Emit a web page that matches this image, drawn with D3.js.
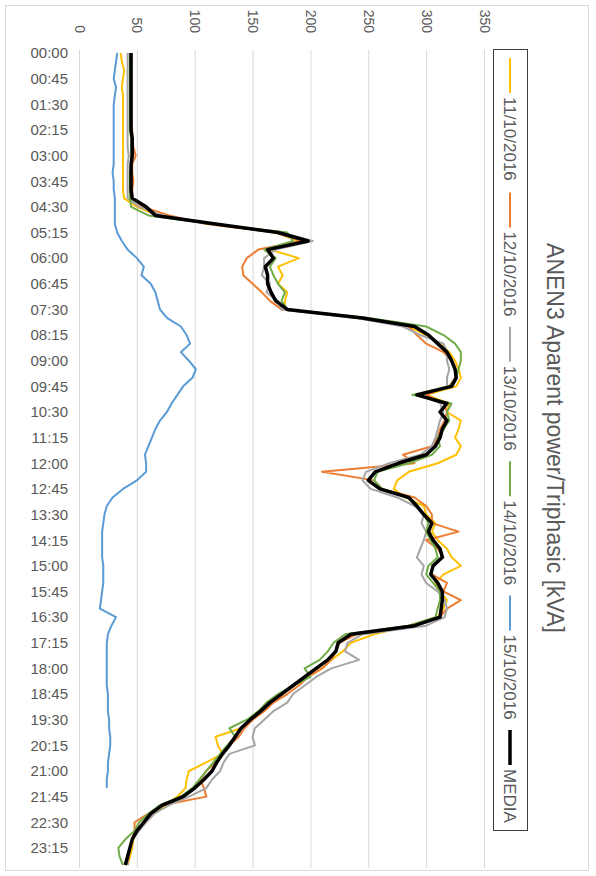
<!DOCTYPE html>
<html>
<head lang="en">
    <meta charset="UTF-8">
    <title>ANEN3 Aparent power/Triphasic</title>
    <script src="https://cdnjs.cloudflare.com/ajax/libs/d3/7.8.5/d3.min.js" charset="utf-8"></script>
    <style>
        body { margin: 0; background: white; }
    </style>
</head>

<body>
<div id="chart"></div>
<script>

// categories: one reading every 15 minutes
var times = [
    '00:00','00:15','00:30','00:45','01:00','01:15','01:30','01:45','02:00','02:15','02:30','02:45',
    '03:00','03:15','03:30','03:45','04:00','04:15','04:30','04:45','05:00','05:15','05:30','05:45',
    '06:00','06:15','06:30','06:45','07:00','07:15','07:30','07:45','08:00','08:15','08:30','08:45',
    '09:00','09:15','09:30','09:45','10:00','10:15','10:30','10:45','11:00','11:15','11:30','11:45',
    '12:00','12:15','12:30','12:45','13:00','13:15','13:30','13:45','14:00','14:15','14:30','14:45',
    '15:00','15:15','15:30','15:45','16:00','16:15','16:30','16:45','17:00','17:15','17:30','17:45',
    '18:00','18:15','18:30','18:45','19:00','19:15','19:30','19:45','20:00','20:15','20:30','20:45',
    '21:00','21:15','21:30','21:45','22:00','22:15','22:30','22:45','23:00','23:15','23:30','23:45'
];
var timeTicks = times.filter(function(t, i) { return i % 3 == 0; });
var valueTicks = [0, 50, 100, 150, 200, 250, 300, 350];

var names = ['11/10/2016', '12/10/2016', '13/10/2016', '14/10/2016', '15/10/2016', 'MEDIA'];
var colors = ['#ffc000', '#ed7d31', '#a5a5a5', '#70ad47', '#5b9bd5', '#000000'];

var day11 = [36,37,39,38,37,38,38,38,38,38,38,38,38,38,38,38,38,39,
    50,68,115,170,190,165,190,172,176,172,180,178,178,
    240,285,300,312,320,325,328,330,326,300,320,318,330,328,325,330,326,
    310,285,275,272,282,298,300,308,305,310,318,322,330,315,308,312,318,315,310,
    285,255,235,228,218,210,198,186,176,165,156,150,140,118,120,124,110,95,93,92,85,75,65,56,50,47,46,44,42];
var day12 = [45,45,44,45,45,45,45,45,45,46,46,47,49,46,46,47,46,46,
    55,78,110,170,192,155,145,141,142,150,158,165,175,
    245,285,292,300,315,322,325,325,320,300,315,318,316,312,310,305,280,
    290,210,255,262,290,300,305,305,328,300,310,315,305,305,318,315,330,318,312,
    285,240,225,222,218,210,198,190,180,168,160,150,143,138,130,125,118,110,105,108,110,72,60,48,48,46,44,43,42];
var day13 = [42,42,42,42,42,42,42,42,42,42,42,42,43,42,42,42,42,42,
    52,72,115,175,202,170,160,160,158,165,162,172,175,
    240,280,295,315,318,318,320,318,318,295,312,315,312,310,308,305,295,
    268,248,245,252,275,290,298,296,300,298,295,292,298,296,300,310,316,318,316,
    300,245,232,230,242,218,205,195,185,180,168,160,152,150,152,130,125,122,115,110,95,78,65,58,52,46,44,42,42];
var day14 = [44,44,44,44,44,44,44,44,44,44,45,45,45,45,44,44,44,44,
    45,60,115,180,185,160,170,165,168,172,178,175,180,
    250,300,315,325,330,330,328,326,320,288,322,318,320,315,310,312,305,
    285,258,255,262,285,292,298,302,300,304,308,310,302,300,306,312,312,310,308,
    285,230,220,215,208,195,200,185,172,162,155,145,130,135,128,122,116,110,104,98,88,70,60,52,48,40,34,35,38];
var day15 = [33,32,31,30,32,31,30,30,30,30,30,30,30,30,29,30,30,31,
    31,31,31,33,37,42,50,56,54,62,66,68,70,
    76,88,93,96,88,95,101,98,90,85,80,76,70,66,63,60,57,
    58,58,50,38,29,24,22,21,20,20,20,20,21,21,21,20,19,18,32,
    28,25,24,24,24,24,24,24,25,25,25,26,26,27,27,26,25,25,24,24,
    null,null,null,null,null,null,null,null,null];
var media = [45,45,45,45,45,45,45,45,45,45,46,46,46,45,45,45,45,46,
    58,66,118,172,198,163,168,161,163,163,166,170,180,
    245,290,302,310,318,322,325,326,322,292,318,312,318,314,312,308,300,
    276,256,250,260,285,292,298,305,302,306,312,314,306,304,310,314,314,313,312,
    290,235,224,222,215,205,195,185,175,165,157,148,140,135,130,124,119,115,108,100,90,72,62,56,50,46,44,42,40];

var series = [day11, day12, day13, day14, day15, media];

var svgWidth = 596, svgHeight = 876;
var plot = {left: 79, right: 484, top: 50, bottom: 868};
var font = '"Liberation Sans", Arial, sans-serif';
var textColor = '#595959';

var svg = d3.select('#chart').append('svg')
    .attr('width', svgWidth)
    .attr('height', svgHeight);

// chart area border
svg.append('rect')
    .attr('x', 5.5).attr('y', 5.5)
    .attr('width', 583).attr('height', 865)
    .attr('fill', 'white')
    .attr('stroke', '#d9d9d9');

var x = d3.scaleLinear().domain([0, 350]).range([plot.left, plot.right]);
var y = d3.scalePoint().domain(times).range([53, 865]);

// vertical gridlines
var grid = svg.append('g')
    .attr('transform', 'translate(0,' + plot.top + ')')
    .call(d3.axisTop(x).tickValues(valueTicks).tickSize(-(plot.bottom - plot.top)).tickFormat(''));
grid.select('.domain').remove();
grid.selectAll('line').attr('stroke', '#d9d9d9').attr('stroke-width', 1);

// value labels, turned with the chart
var vAxis = svg.append('g')
    .call(d3.axisTop(x).tickValues(valueTicks).tickSize(0));
vAxis.select('.domain').remove();
vAxis.selectAll('text')
    .attr('x', 0).attr('y', 0).attr('dy', '0.35em')
    .attr('transform', 'translate(0,33) rotate(90)')
    .attr('text-anchor', 'end')
    .attr('fill', textColor)
    .style('font-family', font)
    .style('font-size', '14px');

// time labels
var tAxis = svg.append('g')
    .attr('transform', 'translate(68,0)')
    .call(d3.axisLeft(y).tickValues(timeTicks).tickSize(0).tickPadding(0));
tAxis.select('.domain').remove();
tAxis.selectAll('text')
    .attr('fill', textColor)
    .style('font-family', font)
    .style('font-size', '15px');

var line = d3.line()
    .defined(function(d) { return d != null; })
    .x(function(d) { return x(d); })
    .y(function(d, i) { return y(times[i]); });

svg.append('g').selectAll('path')
    .data(series)
    .enter().append('path')
    .attr('d', line)
    .attr('fill', 'none')
    .attr('stroke', function(d, i) { return colors[i]; })
    .attr('stroke-width', function(d, i) { return i == 5 ? 3.5 : 2; })
    .attr('stroke-linejoin', 'round');

// legend
var legend = svg.append('g');
legend.append('rect')
    .attr('x', 493.5).attr('y', 49.5)
    .attr('width', 34).attr('height', 781)
    .attr('fill', 'none')
    .attr('stroke', '#404040');

var entry = legend.selectAll('.entry')
    .data(names)
    .enter().append('g')
    .attr('class', 'entry')
    .attr('transform', function(d, i) { return 'translate(510,' + (58 + i * 134.4) + ')'; });
entry.append('line')
    .attr('x1', 0).attr('x2', 0)
    .attr('y1', 0).attr('y2', 35)
    .attr('stroke', function(d, i) { return colors[i]; })
    .attr('stroke-width', function(d, i) { return i == 5 ? 3.5 : 2; });
entry.append('text')
    .attr('transform', 'translate(0,39) rotate(90)')
    .attr('dy', '0.35em')
    .attr('fill', textColor)
    .style('font-family', font)
    .style('font-size', '17px')
    .text(function(d) { return d; });

// title
svg.append('text')
    .attr('transform', 'translate(555,438) rotate(90)')
    .attr('text-anchor', 'middle')
    .attr('dy', '0.35em')
    .attr('fill', textColor)
    .style('font-family', font)
    .style('font-size', '23px')
    .text('ANEN3 Aparent power/Triphasic [kVA]');

</script>
</body>
</html>
